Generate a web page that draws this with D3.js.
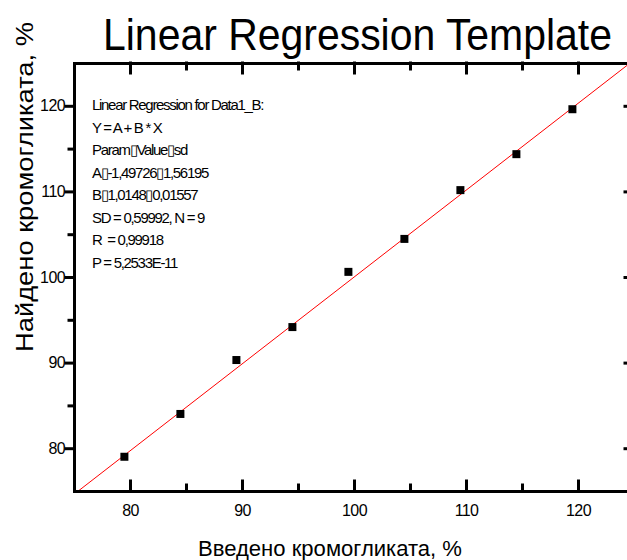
<!DOCTYPE html>
<html>
<head>
<meta charset="utf-8">
<script src="https://cdn.jsdelivr.net/npm/d3@7"></script>
<style>
  body { margin: 0; background: #fff; }
  svg { display: block; font-family: "Liberation Sans", Arial, sans-serif; }
  .axis path, .axis line { stroke: #000; stroke-width: 3; stroke-linecap: square; }
  .axis text { font-size: 16px; fill: #000; letter-spacing: -0.6px; }
  .note { font-size: 15px; letter-spacing: -1.3px; }
</style>
</head>
<body>
<svg id="chart" width="627" height="560"></svg>
<script>
// measured points
const xValues = [79.5, 84.5, 89.5, 94.5, 99.5, 104.5, 109.5, 114.5, 119.5];
const yValues = [79.0, 84.0, 90.3, 94.15, 100.6, 104.45, 110.15, 114.35, 119.6];

// fit result shown in the note
const fitA = -1.49726;
const fitB = 1.0148;

const majorTicks = [80, 90, 100, 110, 120];
const minorTicks = [85, 95, 105, 115];

const noteLines = [
    'Linear Regression for Data1_B:',
    'Y = A + B * X',
    'Param\u25AFValue\u25AFsd',
    'A\u25AF-1,49726\u25AF1,56195',
    'B\u25AF1,0148\u25AF0,01557',
    'SD = 0,59992, N = 9',
    'R \u00A0= 0,99918',
    'P = 5,2533E-11'
];

const svg = d3.select('#chart');

const plotLeft = 74, plotRight = 634, plotTop = 63, plotBottom = 491;

const xScale = d3.scaleLinear()
    .domain([75, 125])
    .range([plotLeft, plotRight]);

const yScale = d3.scaleLinear()
    .domain([75, 125])
    .range([plotBottom, plotTop]);

// clip for the fit line
svg.append('clipPath')
    .attr('id', 'plotClip')
    .append('rect')
    .attr('x', plotLeft)
    .attr('y', plotTop)
    .attr('width', plotRight - plotLeft)
    .attr('height', plotBottom - plotTop);

// regression line
const xs = xScale.domain();
svg.append('line')
    .attr('clip-path', 'url(#plotClip)')
    .attr('x1', xScale(xs[0]))
    .attr('y1', yScale(fitA + fitB * xs[0]))
    .attr('x2', xScale(xs[1]))
    .attr('y2', yScale(fitA + fitB * xs[1]))
    .attr('stroke', '#ff0000')
    .attr('stroke-width', 1);

// markers
const pts = xValues.map((x, i) => ({ x: x, y: yValues[i] }));
const size = 8;
svg.append('g')
    .selectAll('rect')
    .data(pts)
    .enter()
    .append('rect')
    .attr('x', d => xScale(d.x) - size / 2)
    .attr('y', d => yScale(d.y) - size / 2)
    .attr('width', size)
    .attr('height', size)
    .attr('fill', '#000');

// left axis (ticks outward)
svg.append('g')
    .attr('class', 'axis')
    .attr('transform', `translate(${plotLeft},0)`)
    .call(d3.axisLeft(yScale).tickValues(majorTicks).tickSize(8).tickSizeOuter(0).tickPadding(1));
svg.append('g')
    .attr('class', 'axis')
    .attr('transform', `translate(${plotLeft},0)`)
    .call(d3.axisLeft(yScale).tickValues(minorTicks).tickSize(5).tickSizeOuter(0).tickFormat(''));

// bottom axis (ticks inward)
svg.append('g')
    .attr('class', 'axis')
    .attr('transform', `translate(0,${plotBottom})`)
    .call(d3.axisBottom(xScale).tickValues(majorTicks).tickSize(-10).tickSizeOuter(0).tickPadding(14));
svg.append('g')
    .attr('class', 'axis')
    .attr('transform', `translate(0,${plotBottom})`)
    .call(d3.axisBottom(xScale).tickValues(minorTicks).tickSize(-6).tickSizeOuter(0).tickFormat(''));

// top axis
svg.append('g')
    .attr('class', 'axis')
    .attr('transform', `translate(0,${plotTop})`)
    .call(d3.axisTop(xScale).tickValues(majorTicks).tickSize(-10).tickSizeOuter(0).tickFormat(''));
svg.append('g')
    .attr('class', 'axis')
    .attr('transform', `translate(0,${plotTop})`)
    .call(d3.axisTop(xScale).tickValues(minorTicks).tickSize(-6).tickSizeOuter(0).tickFormat(''));

// right axis (mostly off the page)
svg.append('g')
    .attr('class', 'axis')
    .attr('transform', `translate(${plotRight},0)`)
    .call(d3.axisRight(yScale).tickValues(majorTicks).tickSize(-9).tickSizeOuter(0).tickFormat(''));

// note block
svg.append('g')
    .attr('class', 'note')
    .selectAll('text')
    .data(noteLines)
    .enter()
    .append('text')
    .attr('x', 92)
    .attr('y', (d, i) => 110 + i * 22.5)
    .text(d => d);

// title
svg.append('text')
    .attr('x', 103)
    .attr('y', 50)
    .attr('font-size', 45)
    .attr('textLength', 509)
    .attr('lengthAdjust', 'spacingAndGlyphs')
    .text('Linear Regression Template');

// axis titles
svg.append('text')
    .attr('transform', 'translate(33,187) rotate(-90)')
    .attr('text-anchor', 'middle')
    .attr('font-size', 24)
    .attr('textLength', 330)
    .attr('lengthAdjust', 'spacingAndGlyphs')
    .text('Найдено кромогликата, %');

svg.append('text')
    .attr('x', 330)
    .attr('y', 556)
    .attr('text-anchor', 'middle')
    .attr('font-size', 22)
    .attr('textLength', 264)
    .attr('lengthAdjust', 'spacingAndGlyphs')
    .text('Введено кромогликата, %');
</script>
</body>
</html>
